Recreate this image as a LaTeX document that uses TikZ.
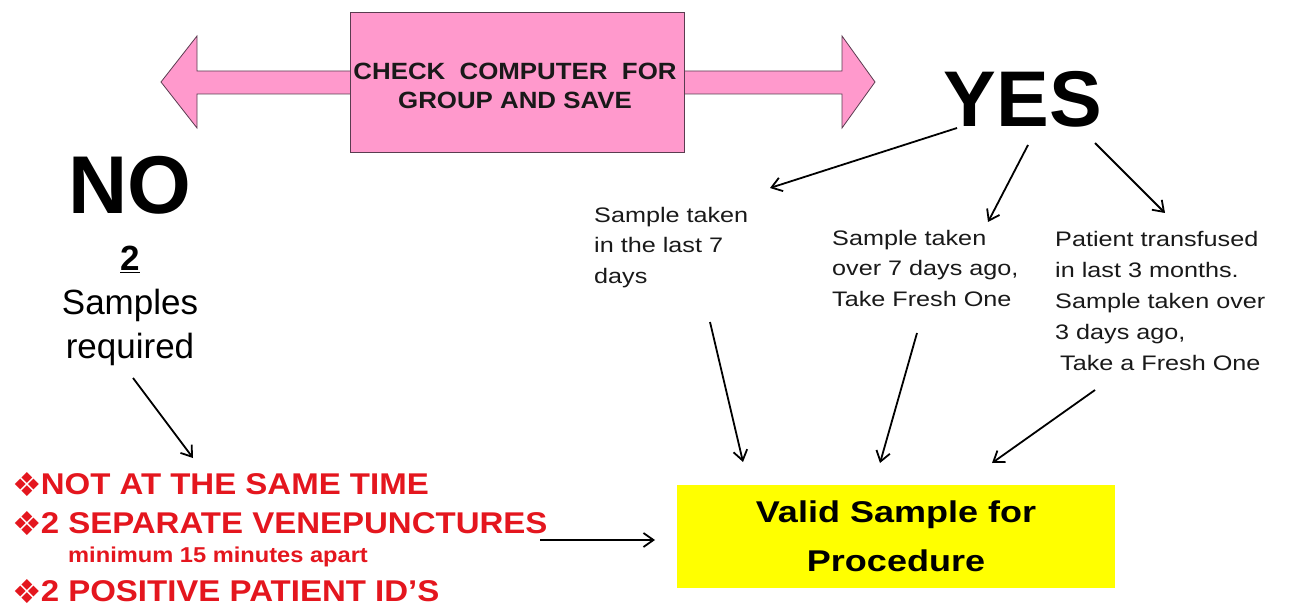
\documentclass[tikz,border=0pt]{standalone}
\usepackage{fontspec}
\setmainfont{Liberation Sans}
\newfontfamily\sB[FakeStretch=1.2]{Liberation Sans}
\newfontfamily\sC[FakeStretch=1.1]{Liberation Sans}
\newfontfamily\djv{DejaVu Sans}
\usetikzlibrary{arrows.meta}
\definecolor{pinkfill}{RGB}{255,153,204}
\definecolor{pinkline}{RGB}{90,60,80}
\definecolor{redtxt}{RGB}{228,22,30}
\definecolor{yel}{RGB}{255,255,0}
\newcommand\fsz[2]{\fontsize{#1}{#2}\selectfont}
\newcommand\bul{\raisebox{-2.5pt}{\djv\fontsize{33}{33}\selectfont ❖}\kern-1pt}
\begin{document}
\begin{tikzpicture}[x=1pt,y=-1pt,
  arr/.style={line width=1.8pt,-{Straight Barb[length=10pt,width=14pt,line width=1.8pt]}},
  txt/.style={font=\sB\fsz{21}{30.5},align=left,inner sep=0,anchor=north west,text=black!90},
  redline/.style={font=\sC\bfseries\fsz{30}{30},text=redtxt,inner sep=0,anchor=base west},
  pinkshape/.style={fill=pinkfill,draw=pinkline,line width=0.8pt}]
\useasboundingbox (0,0) rectangle (1289,609);

% double arrow
\filldraw[pinkshape] (161,82) -- (197,36) -- (197,71) -- (842,71) -- (842,36) -- (875,82)
  -- (842,128) -- (842,94) -- (197,94) -- (197,128) -- cycle;
\node[pinkshape,minimum width=334pt,minimum height=140pt,inner sep=0] (check) at (517,82) {};
\node[font=\sC\bfseries\fsz{23.5}{29},align=center,text=black!90,inner sep=0] (checktxt) at (515,85.5)
  {CHECK\ \ COMPUTER\ \ FOR\\GROUP AND SAVE};

% YES / NO
\node[font=\bfseries\fsz{79}{80},inner sep=0] (yes) at (1023,99) {YES};
\node[font=\bfseries\fsz{82}{84},inner sep=0] (no) at (130,185) {NO};
\node[font=\fsz{35}{44},align=center,anchor=north,inner sep=0] (samples) at (130,246)
  {\underline{\textbf{2}}\\Samples\\required};

% option texts
\node[txt] (b1) at (594,207) {Sample taken\\in the last 7\\days};
\node[txt] (b2) at (832,230) {Sample taken\\over 7 days ago,\\Take Fresh One};
\node[txt,font=\sB\fsz{21}{31}] (b3) at (1055,231)
  {Patient transfused\\in last 3 months.\\Sample taken over\\3 days ago,\\\hspace*{5pt}Take a Fresh One};

% red list
\node[redline] (r1) at (12,494) {\bul NOT AT THE SAME TIME};
\node[redline] (r2) at (12,533) {\bul 2 SEPARATE VENEPUNCTURES};
\node[redline,font=\sC\bfseries\fsz{21.5}{22}] (r3) at (68,562) {minimum 15 minutes apart};
\node[redline] (r4) at (12,601) {\bul 2 POSITIVE PATIENT ID’S};

% yellow box
\node[fill=yel,minimum width=438pt,minimum height=103pt,inner sep=0,
  font=\sB\bfseries\fsz{30}{49},align=center] (valid) at (896,536.5) {Valid Sample for\\Procedure};

% connector end points
\coordinate (y1s) at (957,128); \coordinate (y1e) at (770,188);
\coordinate (y2s) at (1028,145); \coordinate (y2e) at (988,222);
\coordinate (y3s) at (1095,143); \coordinate (y3e) at (1165,213);
\coordinate (v1s) at (710,322); \coordinate (v1e) at (743,462);
\coordinate (v2s) at (917,333); \coordinate (v2e) at (880,463);
\coordinate (v3s) at (1095,390); \coordinate (v3e) at (992,463);
\coordinate (ns) at (133,378); \coordinate (ne) at (193,458);
\coordinate (rs) at (540,540); \coordinate (re) at (655,540);

\draw[arr] (y1s) -- (y1e);
\draw[arr] (y2s) -- (y2e);
\draw[arr] (y3s) -- (y3e);
\draw[arr] (v1s) -- (v1e);
\draw[arr] (v2s) -- (v2e);
\draw[arr] (v3s) -- (v3e);
\draw[arr] (ns) -- (ne);
\draw[arr] (rs) -- (re);
\end{tikzpicture}
\end{document}
